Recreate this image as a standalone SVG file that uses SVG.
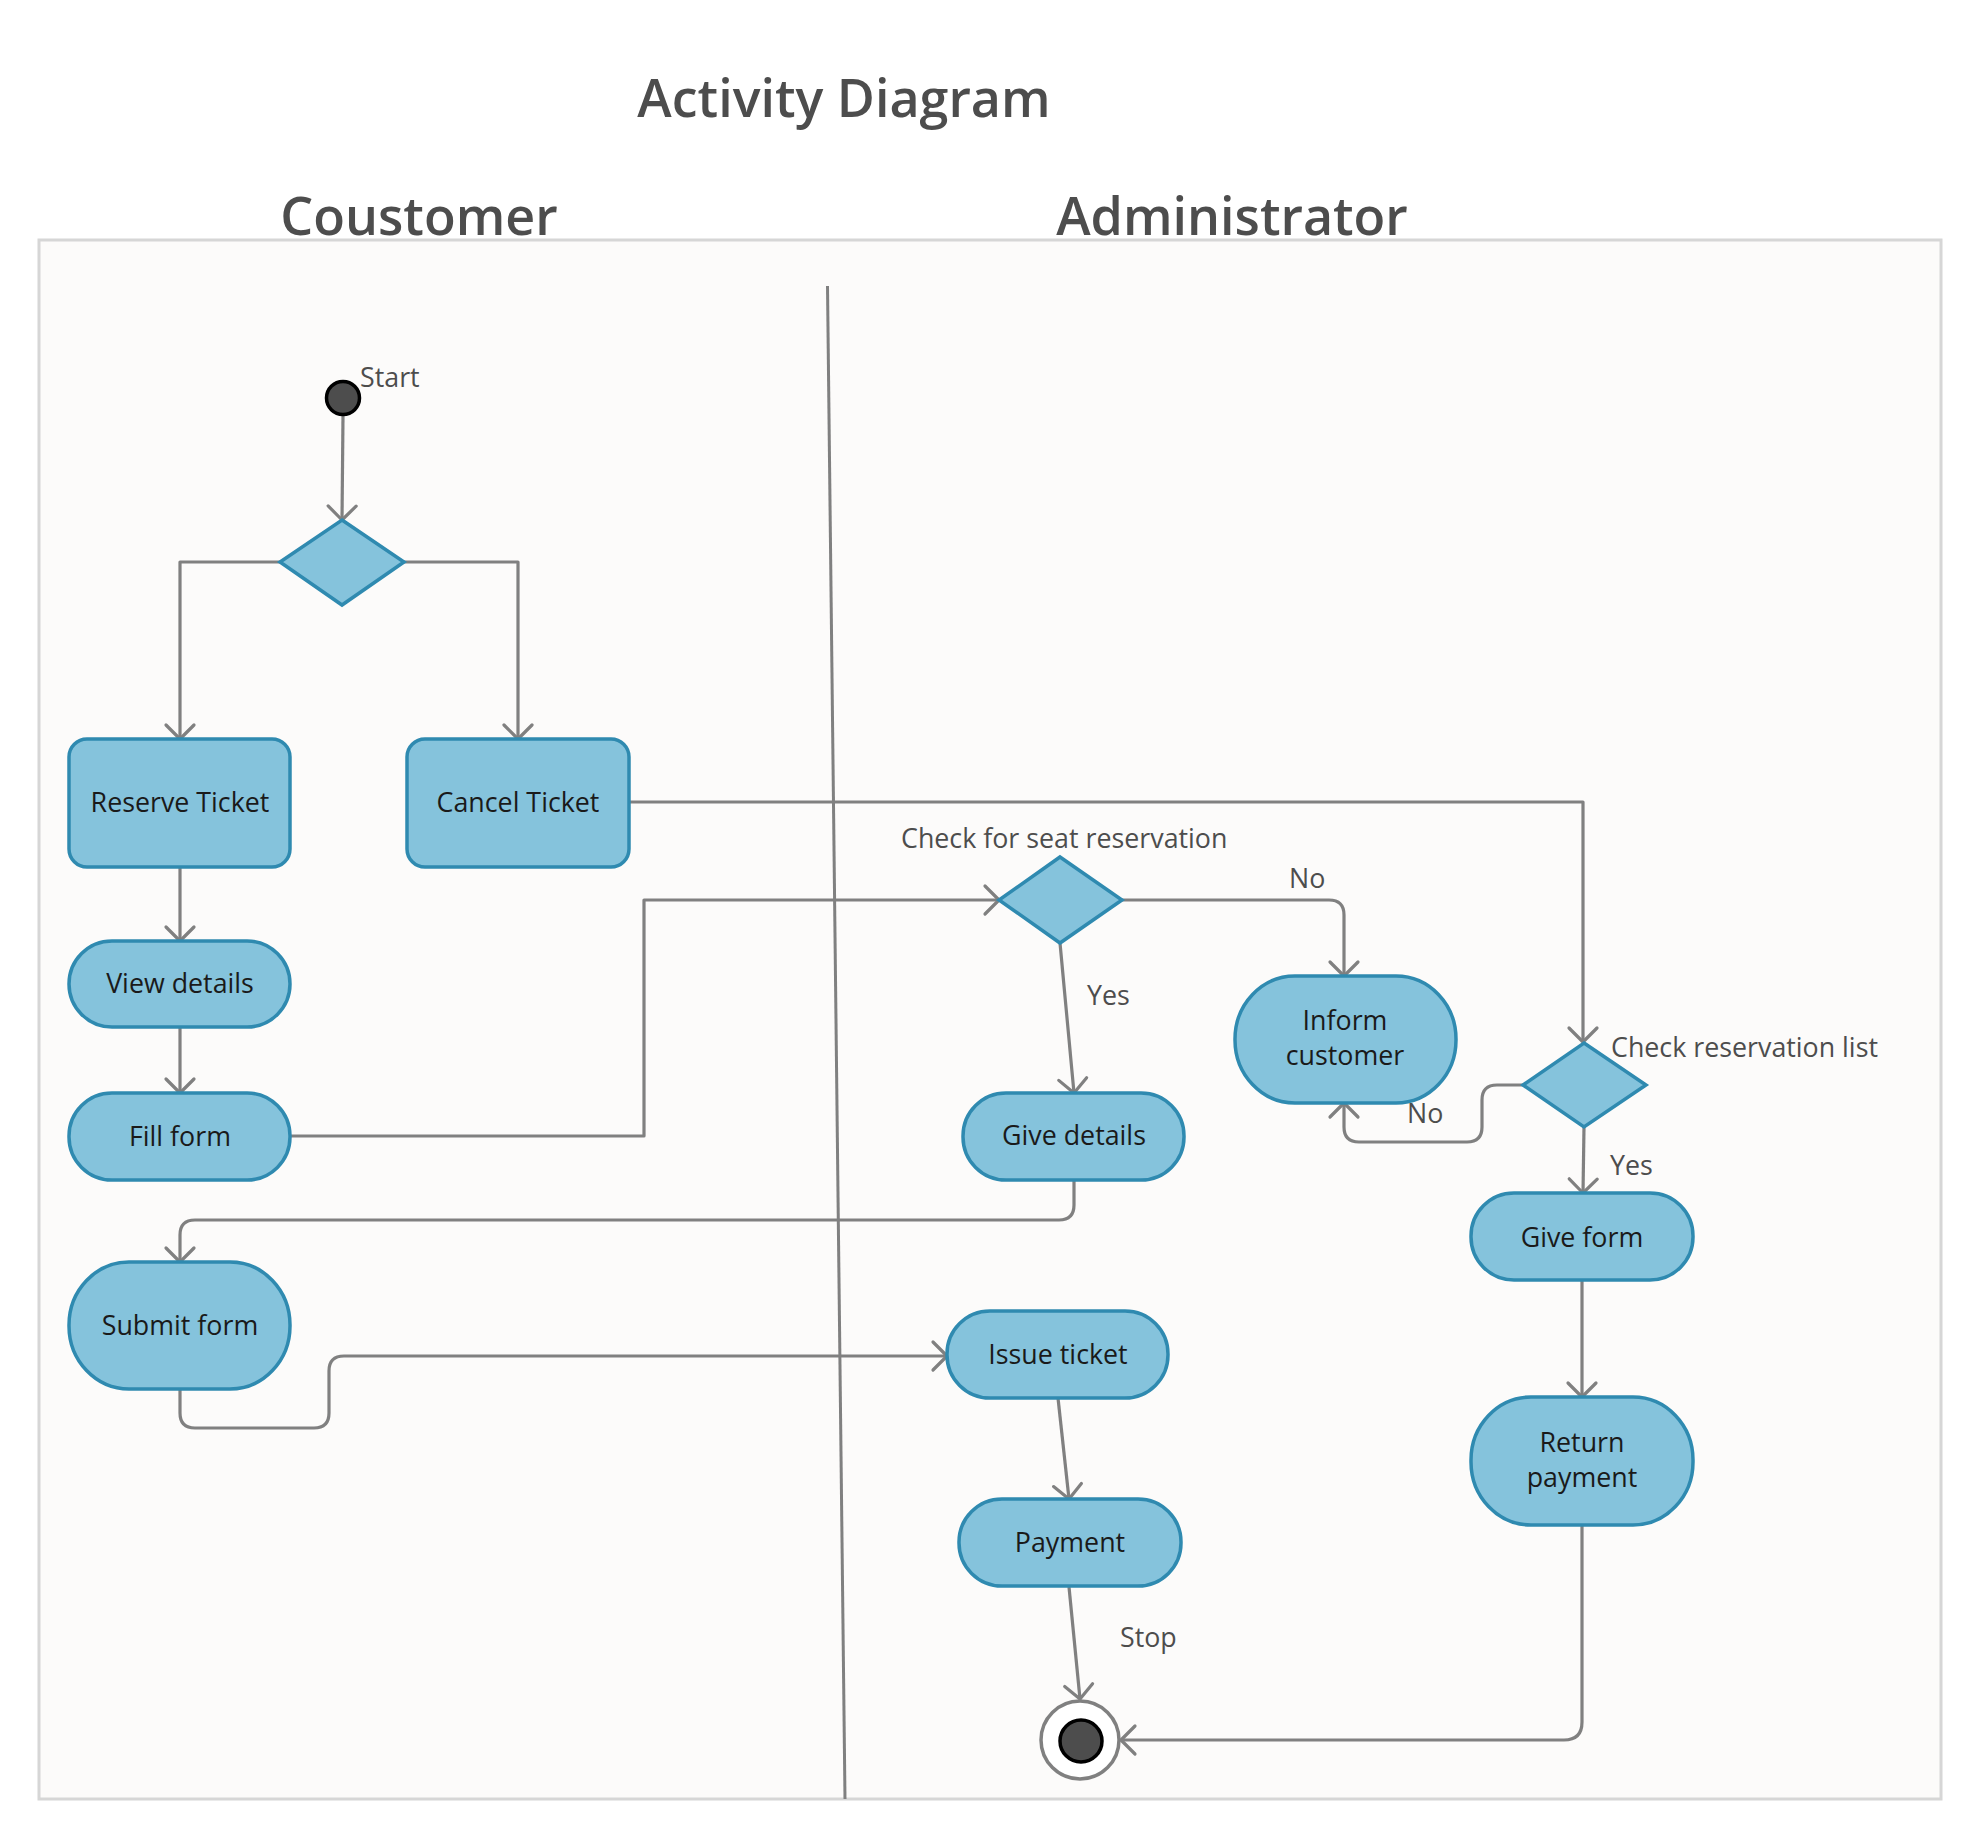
<svg xmlns="http://www.w3.org/2000/svg" width="1981" height="1841" viewBox="0 0 1981 1841">
<style>
.hdr{font-family:"Open Sans","Noto Sans",sans-serif;font-size:52px;font-weight:600;fill:#4d4d4d;text-anchor:middle}
.lbl{font-family:"Open Sans","Noto Sans",sans-serif;font-size:26.8px;fill:#4d4d4d}
.nt{font-family:"Open Sans","Noto Sans",sans-serif;font-size:26.8px;fill:#1a1a1a;text-anchor:middle}
.act{fill:#85c3dc;stroke:#2f8ab0;stroke-width:3.5}
.con{fill:none;stroke:#808080;stroke-width:3.2;stroke-linejoin:round}
</style>
<defs>
<marker id="arr" markerUnits="userSpaceOnUse" markerWidth="40" markerHeight="40" refX="0" refY="0" viewBox="-20 -20 40 40" orient="auto" overflow="visible">
<path d="M-14,-14 L0,0 L-14,14" fill="none" stroke="#808080" stroke-width="3.2" stroke-linecap="round" stroke-linejoin="round"/>
</marker>
</defs>
<rect x="0" y="0" width="1981" height="1841" fill="#ffffff"/>
<text class="hdr" x="844" y="117">Activity Diagram</text>
<text class="hdr" x="419" y="235">Coustomer</text>
<text class="hdr" x="1232" y="235">Administrator</text>
<rect x="39" y="240" width="1902" height="1559" fill="#fcfbfa" stroke="#d6d6d6" stroke-width="3"/>
<line x1="827.5" y1="286" x2="845" y2="1799" stroke="#808080" stroke-width="3"/>

<g id="connectors">
<path class="con" marker-end="url(#arr)" d="M343,416 L342,520"/>
<path class="con" marker-end="url(#arr)" d="M280,562 H180 V739"/>
<path class="con" marker-end="url(#arr)" d="M404,562 H518 V739"/>
<path class="con" marker-end="url(#arr)" d="M180,867 V941"/>
<path class="con" marker-end="url(#arr)" d="M180,1027 V1093"/>
<path class="con" marker-end="url(#arr)" d="M290,1136 H644 V900 H999"/>
<path class="con" marker-end="url(#arr)" d="M629,802 H1583 V1042"/>
<path class="con" marker-end="url(#arr)" d="M1060,943 L1074,1093"/>
<path class="con" marker-end="url(#arr)" d="M1122,900 H1329 Q1344,900 1344,915 V976"/>
<path class="con" marker-end="url(#arr)" d="M1523,1085 H1497 Q1482,1085 1482,1100 V1127 Q1482,1142 1467,1142 H1359 Q1344,1142 1344,1127 V1103"/>
<path class="con" marker-end="url(#arr)" d="M1584,1127 L1583,1193"/>
<path class="con" marker-end="url(#arr)" d="M1582,1280 V1397"/>
<path class="con" marker-end="url(#arr)" d="M1074,1180 V1205 Q1074,1220 1059,1220 H195 Q180,1220 180,1235 V1262"/>
<path class="con" marker-end="url(#arr)" d="M180,1389 V1413 Q180,1428 195,1428 H314 Q329,1428 329,1413 V1371 Q329,1356 344,1356 H947"/>
<path class="con" marker-end="url(#arr)" d="M1058,1398 L1069,1499"/>
<path class="con" marker-end="url(#arr)" d="M1069,1587 L1080,1699"/>
<path class="con" marker-end="url(#arr)" d="M1582,1525 V1722 Q1582,1740 1564,1740 H1121"/>
</g>

<g id="start">
<circle cx="343" cy="398" r="16.5" fill="#4d4d4d" stroke="#000000" stroke-width="3.5"/>
<text class="lbl" x="360" y="387">Start</text>
</g>
<g id="decision1">
<polygon class="act" points="342,520 404,562 342,605 280,562"/>
</g>
<g id="reserve-ticket">
<rect class="act" x="69" y="739" width="221" height="128" rx="18"/>
<text class="nt" x="180" y="812">Reserve Ticket</text>
</g>
<g id="cancel-ticket">
<rect class="act" x="407" y="739" width="222" height="128" rx="18"/>
<text class="nt" x="518" y="812">Cancel Ticket</text>
</g>
<g id="view-details">
<rect class="act" x="69" y="941" width="221" height="86" rx="43"/>
<text class="nt" x="180" y="993">View details</text>
</g>
<g id="fill-form">
<rect class="act" x="69" y="1093" width="221" height="87" rx="43"/>
<text class="nt" x="180" y="1146">Fill form</text>
</g>
<g id="submit-form">
<rect class="act" x="69" y="1262" width="221" height="127" rx="60" ry="63"/>
<text class="nt" x="180" y="1335">Submit form</text>
</g>
<g id="check-seat">
<polygon class="act" points="1060,857 1122,900 1060,943 999,900"/>
<text class="lbl" x="901" y="848">Check for seat reservation</text>
<text class="lbl" x="1289" y="888">No</text>
<text class="lbl" x="1087" y="1005">Yes</text>
</g>
<g id="give-details">
<rect class="act" x="963" y="1093" width="221" height="87" rx="43"/>
<text class="nt" x="1074" y="1145">Give details</text>
</g>
<g id="inform-customer">
<rect class="act" x="1235" y="976" width="221" height="127" rx="60" ry="63"/>
<text class="nt" x="1345" y="1030">Inform</text>
<text class="nt" x="1345" y="1065">customer</text>
</g>
<g id="check-list">
<polygon class="act" points="1584,1043 1646,1085 1584,1127 1523,1085"/>
<text class="lbl" x="1611" y="1057">Check reservation list</text>
<text class="lbl" x="1407" y="1123">No</text>
<text class="lbl" x="1610" y="1175">Yes</text>
</g>
<g id="give-form">
<rect class="act" x="1471" y="1193" width="222" height="87" rx="43"/>
<text class="nt" x="1582" y="1247">Give form</text>
</g>
<g id="issue-ticket">
<rect class="act" x="947" y="1311" width="221" height="87" rx="43"/>
<text class="nt" x="1058" y="1364">Issue ticket</text>
</g>
<g id="payment">
<rect class="act" x="959" y="1499" width="222" height="87" rx="43"/>
<text class="nt" x="1070" y="1552">Payment</text>
</g>
<g id="return-payment">
<rect class="act" x="1471" y="1397" width="222" height="128" rx="60" ry="63"/>
<text class="nt" x="1582" y="1452">Return</text>
<text class="nt" x="1582" y="1487">payment</text>
</g>
<g id="end">
<circle cx="1080" cy="1740" r="39" fill="#ffffff" stroke="#808080" stroke-width="3.5"/>
<circle cx="1081" cy="1741" r="21" fill="#4d4d4d" stroke="#000000" stroke-width="3.5"/>
<text class="lbl" x="1120" y="1647">Stop</text>
</g>
</svg>
